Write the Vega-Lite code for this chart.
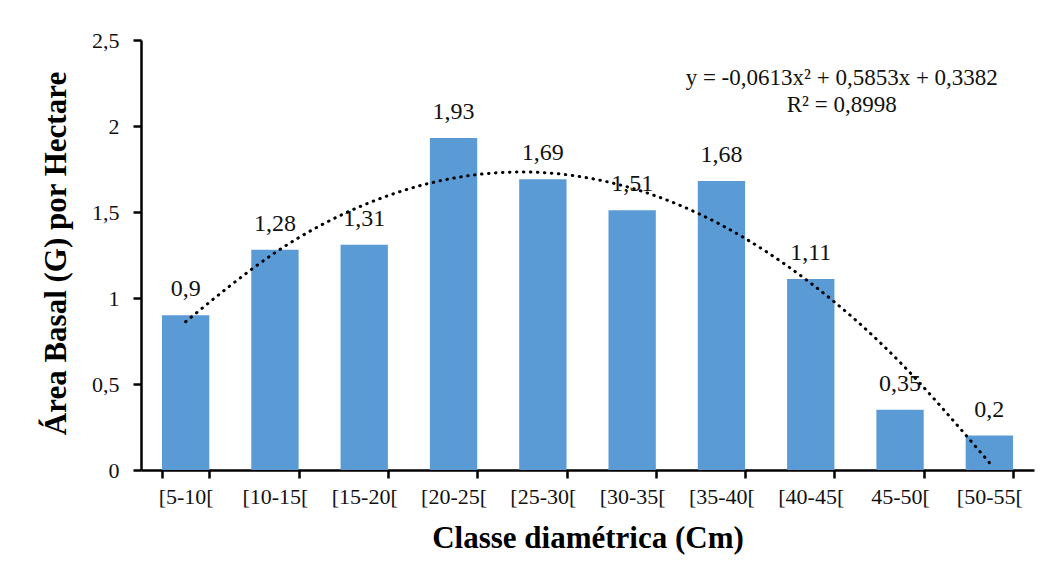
{
  "$schema": "https://vega.github.io/schema/vega-lite/v6.json",
  "autosize": {"type": "none"},
  "width": 893,
  "height": 430,
  "padding": {"left": 141, "top": 40, "right": 21, "bottom": 113},
  "background": "white",
  "config": {
    "view": {"stroke": null},
    "font": "Liberation Serif",
    "text": {"font": "Liberation Serif"},
    "axis": {"labelFont": "Liberation Serif", "titleFont": "Liberation Serif"},
    "locale": {"number": {"decimal": ",", "thousands": ".", "grouping": [3], "currency": ["", " €"]}}
  },
  "datasets": {
    "bars": [
      {"classe": "[5-10[", "g": 0.9},
      {"classe": "[10-15[", "g": 1.28},
      {"classe": "[15-20[", "g": 1.31},
      {"classe": "[20-25[", "g": 1.93},
      {"classe": "[25-30[", "g": 1.69},
      {"classe": "[30-35[", "g": 1.51},
      {"classe": "[35-40[", "g": 1.68},
      {"classe": "[40-45[", "g": 1.11},
      {"classe": "45-50[", "g": 0.35},
      {"classe": "[50-55[", "g": 0.2}
    ],
    "trend": [
      {"classe": "[5-10[", "g": 0.862},
      {"classe": "[10-15[", "g": 1.263},
      {"classe": "[15-20[", "g": 1.542},
      {"classe": "[20-25[", "g": 1.697},
      {"classe": "[25-30[", "g": 1.729},
      {"classe": "[30-35[", "g": 1.638},
      {"classe": "[35-40[", "g": 1.424},
      {"classe": "[40-45[", "g": 1.086},
      {"classe": "45-50[", "g": 0.626},
      {"classe": "[50-55[", "g": 0.043}
    ],
    "annot": [
      {"classe": "[40-45[", "g": 2.24, "t": "y = -0,0613x² + 0,5853x + 0,3382"},
      {"classe": "[40-45[", "g": 2.08, "t": "R² = 0,8998"}
    ]
  },
  "encoding": {
    "x": {
      "field": "classe", "type": "nominal", "sort": null,
      "scale": {"paddingInner": 0.47, "paddingOuter": 0.235},
      "axis": {
        "title": "Classe diamétrica (Cm)",
        "labelAngle": 0, "labelFontSize": 22, "labelFont": "Liberation Serif", "labelColor": "#111", "labelPadding": 8,
        "tickBand": "extent", "tickSize": 8, "tickWidth": 2.5, "tickColor": "black",
        "domainColor": "black", "domainWidth": 2.5,
        "titleFont": "Liberation Serif", "titleFontSize": 31, "titleFontWeight": "bold", "titleColor": "black",
        "titleY": 77, "titleBaseline": "alphabetic"
      }
    },
    "y": {
      "field": "g", "type": "quantitative",
      "scale": {"domain": [0, 2.5], "nice": false},
      "axis": {
        "title": "Área Basal (G) por Hectare",
        "values": [0, 0.5, 1, 1.5, 2, 2.5], "format": "~g",
        "grid": false, "labelFontSize": 22, "labelFont": "Liberation Serif", "labelColor": "#111", "labelPadding": 14,
        "tickSize": 8, "tickWidth": 2.5, "tickColor": "black",
        "domainColor": "black", "domainWidth": 2.5,
        "titleFont": "Liberation Serif", "titleFontSize": 31, "titleFontWeight": "bold", "titleColor": "black",
        "titleX": -85, "titleY": 213, "titleAngle": -90, "titleAlign": "center", "titleBaseline": "middle"
      }
    }
  },
  "layer": [
    {
      "data": {"name": "bars"},
      "mark": {"type": "bar", "color": "#5B9BD5"}
    },
    {
      "data": {"name": "bars"},
      "mark": {"type": "text", "font": "Liberation Serif", "fontSize": 24, "color": "#111", "baseline": "alphabetic", "dy": -19},
      "encoding": {"text": {"field": "g", "type": "quantitative", "format": ".2~f"}}
    },
    {
      "data": {"name": "trend"},
      "mark": {"type": "line", "color": "black", "strokeWidth": 3, "strokeCap": "round", "strokeDash": [0.5, 6.5], "interpolate": "natural"},
      "encoding": {}
    },
    {
      "data": {"name": "annot"},
      "mark": {"type": "text", "font": "Liberation Serif", "fontSize": 23, "color": "#111", "align": "center", "baseline": "alphabetic", "dx": 31},
      "encoding": {"text": {"field": "t", "type": "nominal"}}
    }
  ]
}
